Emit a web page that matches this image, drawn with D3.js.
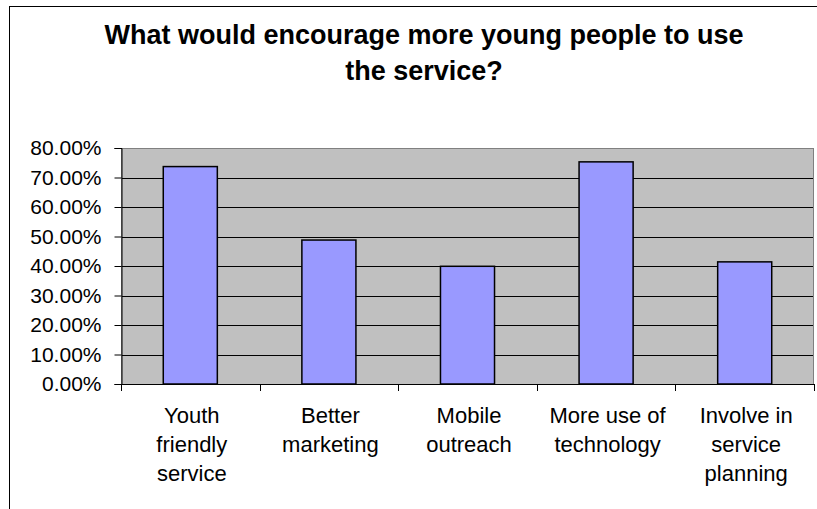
<!DOCTYPE html>
<html>
<head>
<meta charset="utf-8">
<script src="https://cdn.jsdelivr.net/npm/d3@7"></script>
<style>
  html, body { margin: 0; padding: 0; background: #fff; overflow: hidden; }
  svg { display: block; }
  text { font-family: "Liberation Sans", Arial, sans-serif; fill: #000; }
</style>
</head>
<body>
<svg id="chart" width="817" height="509"></svg>
<script>
const titleText = "What would encourage more young people to use the service?";
const categories = ["Youth friendly service", "Better marketing", "Mobile outreach", "More use of technology", "Involve in service planning"];
const values = [0.737, 0.488, 0.399, 0.753, 0.414];
const yTicks = [0, 0.1, 0.2, 0.3, 0.4, 0.5, 0.6, 0.7, 0.8];

const W = 817, H = 509;
const plot = { left: 121, right: 814, top: 148, bottom: 384 };

const svg = d3.select("#chart");

// outer chart frame (clipped at right/bottom as in reference)
svg.append("rect")
  .attr("x", 9.5).attr("y", 6.5)
  .attr("width", 830).attr("height", 520)
  .attr("fill", "#fff").attr("stroke", "#000").attr("stroke-width", 1);

const x = d3.scaleBand().domain(categories).range([plot.left, plot.right]).padding(0);
const y = d3.scaleLinear().domain([0, 0.8]).range([plot.bottom, plot.top]);

// plot area background
svg.append("rect")
  .attr("x", plot.left).attr("y", plot.top)
  .attr("width", plot.right - plot.left).attr("height", plot.bottom - plot.top)
  .attr("fill", "#C0C0C0");

// gridlines
svg.append("g").selectAll("line")
  .data(yTicks.filter(d => d > 0 && d < 0.8))
  .join("line")
  .attr("x1", plot.left).attr("x2", plot.right)
  .attr("y1", d => Math.round(y(d)) + 0.5).attr("y2", d => Math.round(y(d)) + 0.5)
  .attr("stroke", "#000").attr("stroke-width", 1);

// plot area border (grey)
svg.append("rect")
  .attr("x", plot.left + 0.5).attr("y", plot.top + 0.5)
  .attr("width", plot.right - plot.left - 1).attr("height", plot.bottom - plot.top)
  .attr("fill", "none").attr("stroke", "#808080").attr("stroke-width", 1);

// bars
const barFrac = 0.39;
svg.append("g").selectAll("rect")
  .data(categories.map((c, i) => ({ c, v: values[i] })))
  .join("rect")
  .attr("x", d => x(d.c) + x.bandwidth() * (1 - barFrac) / 2)
  .attr("width", x.bandwidth() * barFrac)
  .attr("y", d => y(d.v))
  .attr("height", d => y(0) - y(d.v))
  .attr("fill", "#9999FF")
  .attr("stroke", "#000").attr("stroke-width", 1.5);

// y axis
const yAxis = d3.axisLeft(y).tickValues(yTicks).tickSize(7).tickPadding(13)
  .tickFormat(d => (d * 100).toFixed(2) + "%");
const gy = svg.append("g").attr("transform", `translate(${plot.left + 0.5},0)`).call(yAxis);
gy.select(".domain").attr("stroke", "#000");
gy.selectAll(".tick line").attr("stroke", "#000");
gy.selectAll(".tick text").attr("font-size", 21).attr("font-family", '"Liberation Sans", Arial, sans-serif').attr("fill", "#000");

// x axis line + ticks at category boundaries
const gx = svg.append("g");
gx.append("line")
  .attr("x1", plot.left).attr("x2", plot.right)
  .attr("y1", plot.bottom + 0.5).attr("y2", plot.bottom + 0.5)
  .attr("stroke", "#000");
const bounds = categories.map(c => x(c)).concat([x(categories[categories.length - 1]) + x.bandwidth()]);
gx.selectAll("line.tk").data(bounds).join("line").attr("class", "tk")
  .attr("x1", d => Math.round(d) + 0.5).attr("x2", d => Math.round(d) + 0.5)
  .attr("y1", plot.bottom).attr("y2", plot.bottom + 7)
  .attr("stroke", "#000");

// word wrap helper
function wrapWords(text, maxWidth, fontSize, weight) {
  const ctx = document.createElement("canvas").getContext("2d");
  ctx.font = `${weight || "normal"} ${fontSize}px "Liberation Sans", Arial, sans-serif`;
  const words = text.split(" ");
  const lines = [];
  let cur = "";
  words.forEach(w => {
    const t = cur ? cur + " " + w : w;
    if (ctx.measureText(t).width > maxWidth && cur) { lines.push(cur); cur = w; }
    else cur = t;
  });
  if (cur) lines.push(cur);
  return lines;
}

// x labels
categories.forEach(c => {
  const lines = wrapWords(c, 125, 22);
  const t = svg.append("text")
    .attr("text-anchor", "middle")
    .attr("font-size", 22);
  lines.forEach((ln, i) => {
    t.append("tspan")
      .attr("x", x(c) + x.bandwidth() / 2 + 1.5)
      .attr("y", 423 + i * 28.8)
      .text(ln);
  });
});

// title
const tLines = wrapWords(titleText, 665, 27, "bold");
const tt = svg.append("text").attr("text-anchor", "middle")
  .attr("font-size", 27).attr("font-weight", "bold");
tLines.forEach((ln, i) => {
  tt.append("tspan").attr("x", 424).attr("y", 44 + i * 36).text(ln);
});
</script>
</body>
</html>
